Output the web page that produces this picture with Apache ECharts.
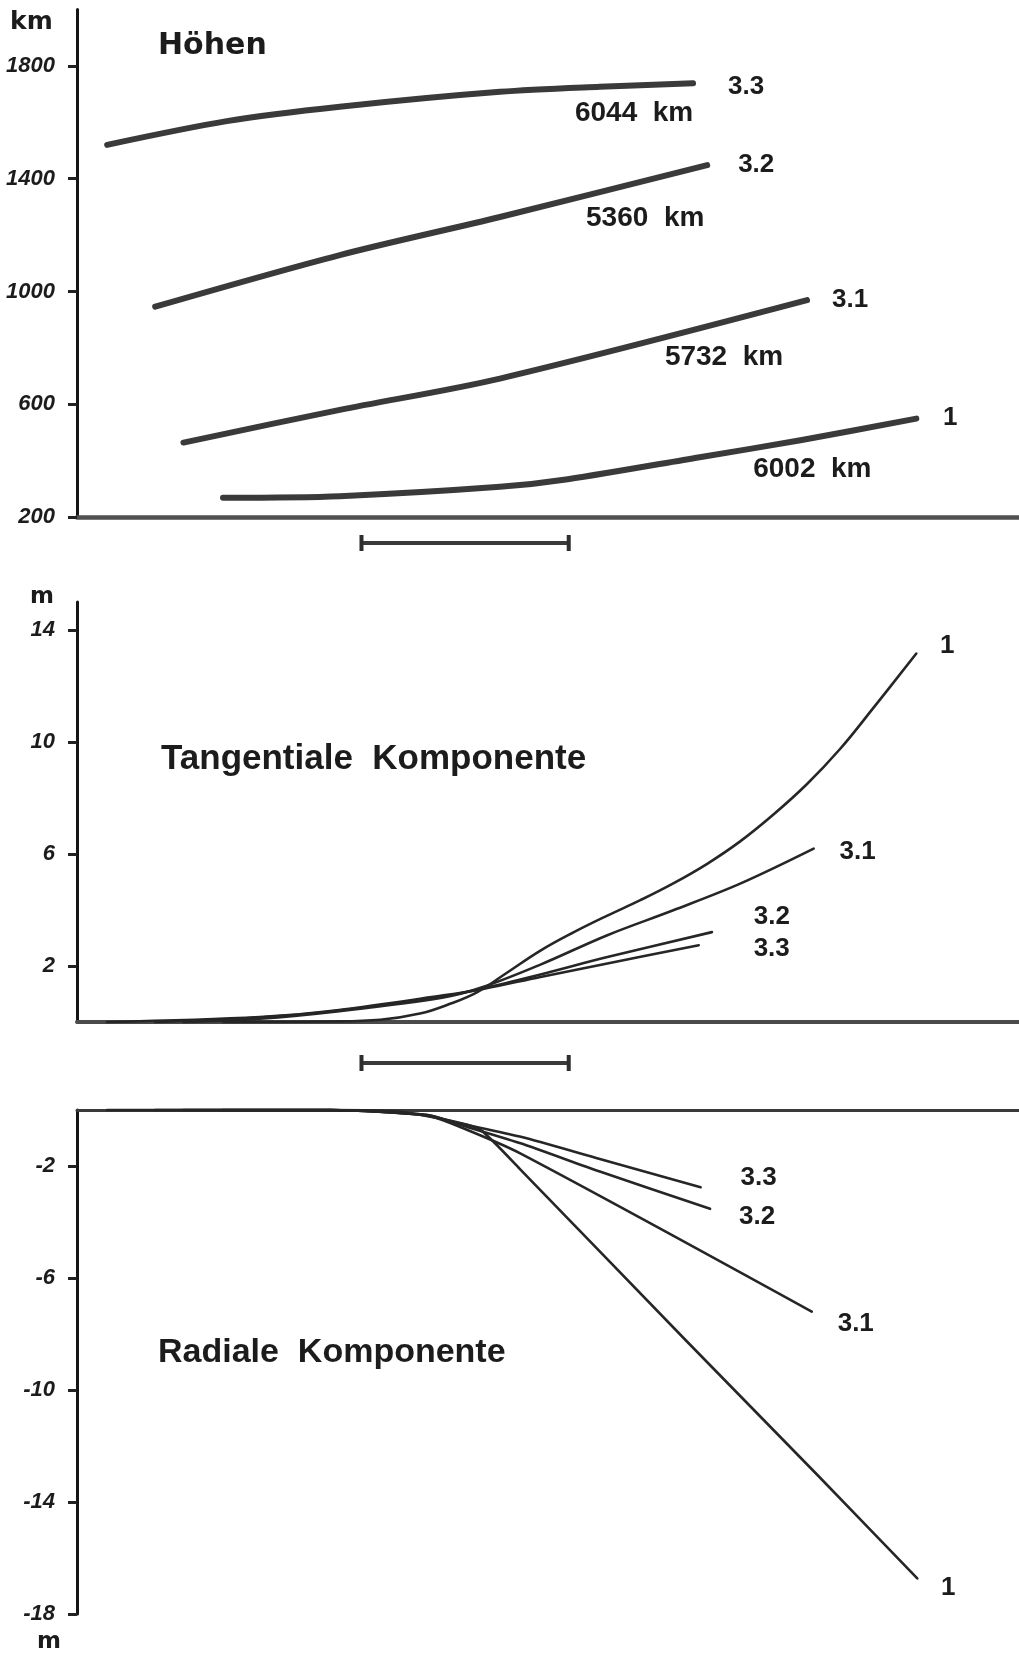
<!DOCTYPE html>
<html>
<head>
<meta charset="utf-8">
<script src="https://cdn.jsdelivr.net/npm/echarts@6/dist/echarts.min.js"></script>
<style>
  html, body { margin: 0; padding: 0; background: #ffffff; }
  #chart { width: 1019px; height: 1655px; }
</style>
</head>
<body>
<div id="chart"></div>
<script>
// Horizontal position along the arc, in frame units (0 … 100 across the plot)

// Höhen (km)
const hoeheX_33 = [3.2, 15.9, 27.9, 44.9, 55.5, 65.4];
const hoeheY_33 = [1520, 1604, 1655, 1708, 1726, 1738];
const hoeheX_32 = [8.3, 27.9, 44.9, 66.9];
const hoeheY_32 = [946, 1129, 1264, 1448];
const hoeheX_31 = [11.3, 27.9, 44.9, 77.5];
const hoeheY_31 = [464, 580, 691, 969];
const hoeheX_1 = [15.5, 27.9, 44.9, 52.1, 66.1, 76.8, 89.1];
const hoeheY_1 = [268, 274, 307, 334, 412, 472, 549];

// Tangentiale Komponente (m)
const tangX_33 = [3.2, 19.4, 27.6, 38.9, 43.1, 49.2, 56.3, 66.0];
const tangY_33 = [0, 0.18, 0.42, 0.95, 1.18, 1.61, 2.09, 2.74];
const tangX_32 = [8.3, 19.4, 27.6, 38.9, 43.1, 49.2, 56.3, 67.4];
const tangY_32 = [0, 0.16, 0.40, 0.92, 1.20, 1.70, 2.32, 3.21];
const tangX_31 = [11.3, 19.4, 27.6, 38.9, 43.1, 49.2, 56.3, 63.3, 70.4, 78.2];
const tangY_31 = [0, 0.12, 0.38, 0.88, 1.25, 2.05, 3.10, 3.99, 4.94, 6.19];
const tangX_1 = [15.5, 26.9, 32.2, 36.4, 39.6, 42.5, 45.6, 49.2, 52.7, 56.3, 59.8, 63.3, 66.9, 70.4, 73.9, 77.5, 81.0, 84.5, 89.1];
const tangY_1 = [0, 0.02, 0.08, 0.30, 0.65, 1.07, 1.75, 2.55, 3.20, 3.80, 4.35, 4.95, 5.65, 6.45, 7.40, 8.50, 9.75, 11.20, 13.16];

// Radiale Komponente (m)
const radX_33 = [3.2, 26.9, 37.2, 39.9, 47.0, 55.5, 66.2];
const radY_33 = [0, 0, -0.18, -0.42, -0.95, -1.75, -2.76];
const radX_32 = [8.3, 26.9, 37.2, 39.9, 47.0, 55.5, 67.2];
const radY_32 = [0, 0, -0.18, -0.45, -1.18, -2.20, -3.53];
const radX_31 = [11.3, 26.9, 37.2, 39.9, 47.0, 78.0];
const radY_31 = [0, 0, -0.20, -0.50, -1.54, -7.20];
const radX_1 = [15.5, 26.9, 34.3, 39.9, 42.8, 47.0, 64.7, 78.5, 89.2];
const radY_1 = [0, 0, -0.06, -0.40, -0.70, -2.10, -8.25, -13.0, -16.73];

// Tick labels of the three vertical axes
const hoeheTicks = [200, 600, 1000, 1400, 1800];
const tangTicks = [2, 6, 10, 14];
const radTicks = [-2, -6, -10, -14, -18];

// Arc names and lengths
const arcNames = ['3.3', '3.2', '3.1', '1'];
const arcLengths = ['6044  km', '5360  km', '5732  km', '6002  km'];

// Scale bar under the first two panels (frame units)
const scaleBar = [30.2, 52.2];

const ink = '#1c1c1c';
const numFont = "'Liberation Sans', Arial, sans-serif";

function pairs(xs, ys) { return xs.map((x, i) => [x, ys[i]]); }

function endMarks(xs, ys, texts) {
  const end = [xs[xs.length - 1], ys[ys.length - 1]];
  return {
    symbol: 'circle',
    symbolSize: 1,
    silent: true,
    itemStyle: { color: 'rgba(0,0,0,0)' },
    data: texts.map(t => ({
      coord: end,
      label: {
        show: true,
        position: 'inside',
        formatter: t.text,
        offset: t.offset,
        color: ink,
        fontFamily: numFont,
        fontWeight: 'bold',
        fontSize: t.size
      }
    }))
  };
}

function arc(gridIdx, xs, ys, width, color, texts, smooth) {
  return {
    type: 'line',
    xAxisIndex: gridIdx,
    yAxisIndex: gridIdx,
    data: pairs(xs, ys),
    showSymbol: false,
    smooth: smooth,
    clip: false,
    lineStyle: { width: width, color: color, cap: 'round', join: 'round' },
    markPoint: endMarks(xs, ys, texts),
    z: 3
  };
}

function bar(gridIdx) {
  return {
    type: 'line',
    xAxisIndex: gridIdx,
    yAxisIndex: gridIdx,
    data: scaleBar.map(x => [x, 0]),
    symbol: 'rect',
    symbolSize: [4, 16],
    showSymbol: true,
    clip: false,
    itemStyle: { color: '#2e2e2e' },
    lineStyle: { width: 4, color: '#3a3a3a' }
  };
}

function valueY(min, max, ticks) {
  return {
    type: 'value',
    min: min,
    max: max,
    axisLine: { show: true, onZero: false, lineStyle: { color: '#151515', width: 3 } },
    axisTick: { show: true, length: 9, customValues: ticks, lineStyle: { color: '#222', width: 3 } },
    axisLabel: {
      show: true,
      customValues: ticks,
      formatter: v => String(v),
      margin: 22,
      color: ink,
      fontFamily: numFont,
      fontStyle: 'italic',
      fontWeight: 'bold',
      fontSize: 22
    },
    splitLine: { show: false }
  };
}

function frameX(width, color, onZero) {
  return {
    type: 'value',
    min: 0,
    max: 100,
    axisLine: { show: width > 0, onZero: onZero, lineStyle: { color: color, width: width } },
    axisTick: { show: false },
    axisLabel: { show: false },
    splitLine: { show: false }
  };
}

const hidden = (min, max) => ({ type: 'value', min: min, max: max, show: false });

const chart = echarts.init(document.getElementById('chart'), null, { renderer: 'canvas' });

chart.setOption({
  animation: false,
  backgroundColor: '#ffffff',
  grid: [
    { left: 77, right: 0, top: 9.5, bottom: 1138, outerBoundsMode: 'none' },
    { left: 77, right: 0, top: 602, bottom: 633, outerBoundsMode: 'none' },
    { left: 77, right: 0, top: 1110, bottom: 41, outerBoundsMode: 'none' },
    { left: 77, right: 0, top: 536, height: 14, outerBoundsMode: 'none' },
    { left: 77, right: 0, top: 1056, height: 14, outerBoundsMode: 'none' }
  ],
  xAxis: [
    Object.assign(frameX(4.5, '#505050', false), { gridIndex: 0 }),
    Object.assign(frameX(4, '#4a4a4a', true), { gridIndex: 1 }),
    Object.assign(frameX(3, '#3a3a3a', true), { gridIndex: 2, position: 'top' }),
    Object.assign(frameX(0, '#000', false), { gridIndex: 3, show: false }),
    Object.assign(frameX(0, '#000', false), { gridIndex: 4, show: false })
  ],
  yAxis: [
    Object.assign(valueY(200, 2000, hoeheTicks), { gridIndex: 0 }),
    Object.assign(valueY(0, 15, tangTicks), { gridIndex: 1 }),
    Object.assign(valueY(-18, 0, radTicks), { gridIndex: 2 }),
    Object.assign(hidden(-1, 1), { gridIndex: 3 }),
    Object.assign(hidden(-1, 1), { gridIndex: 4 })
  ],
  series: [
    // Höhen
    arc(0, hoeheX_33, hoeheY_33, 6, '#3a3a3a', [
      { text: arcNames[0], offset: [53, 3], size: 26 },
      { text: arcLengths[0], offset: [-59, 30], size: 28 }
    ], 0.3),
    arc(0, hoeheX_32, hoeheY_32, 6, '#3a3a3a', [
      { text: arcNames[1], offset: [49, 0], size: 26 },
      { text: arcLengths[1], offset: [-62, 53], size: 28 }
    ], 0.3),
    arc(0, hoeheX_31, hoeheY_31, 6, '#3a3a3a', [
      { text: arcNames[2], offset: [43, 0], size: 26 },
      { text: arcLengths[2], offset: [-83, 57], size: 28 }
    ], 0.3),
    arc(0, hoeheX_1, hoeheY_1, 6, '#3a3a3a', [
      { text: arcNames[3], offset: [34, -1], size: 26 },
      { text: arcLengths[3], offset: [-104, 51], size: 28 }
    ], 0.3),
    // Tangentiale Komponente
    arc(1, tangX_33, tangY_33, 2.6, '#262626', [{ text: arcNames[0], offset: [73, 4], size: 26 }], 0.35),
    arc(1, tangX_32, tangY_32, 2.6, '#262626', [{ text: arcNames[1], offset: [60, -15], size: 26 }], 0.35),
    arc(1, tangX_31, tangY_31, 2.6, '#262626', [{ text: arcNames[2], offset: [44, 3], size: 26 }], 0.35),
    arc(1, tangX_1, tangY_1, 2.6, '#262626', [{ text: arcNames[3], offset: [31, -8], size: 26 }], 0.4),
    // Radiale Komponente
    arc(2, radX_33, radY_33, 2.6, '#262626', [{ text: arcNames[0], offset: [58, -9], size: 26 }], 0.25),
    arc(2, radX_32, radY_32, 2.6, '#262626', [{ text: arcNames[1], offset: [47, 8], size: 26 }], 0.25),
    arc(2, radX_31, radY_31, 2.6, '#262626', [{ text: arcNames[2], offset: [44, 12], size: 26 }], 0.25),
    arc(2, radX_1, radY_1, 2.6, '#262626', [{ text: arcNames[3], offset: [31, 9], size: 26 }], 0.2),
    // scale bars
    bar(3),
    bar(4)
  ],
  graphic: [
    { type: 'text', x: 10, y: 22, style: { text: 'km', fill: ink, font: "bold 25px 'DejaVu Sans'", textVerticalAlign: 'middle' } },
    { type: 'text', x: 158, y: 46, style: { text: 'Höhen', fill: ink, font: "bold 30px 'DejaVu Sans'", textVerticalAlign: 'middle' } },
    { type: 'text', x: 30, y: 597, style: { text: 'm', fill: ink, font: "bold 23px 'DejaVu Sans'", textVerticalAlign: 'middle' } },
    { type: 'text', x: 161, y: 759, style: { text: 'Tangentiale  Komponente', fill: ink, font: "bold 35px 'Liberation Sans'", textVerticalAlign: 'middle' } },
    { type: 'text', x: 158, y: 1353, style: { text: 'Radiale  Komponente', fill: ink, font: "bold 34px 'Liberation Sans'", textVerticalAlign: 'middle' } },
    { type: 'text', x: 37, y: 1642, style: { text: 'm', fill: ink, font: "bold 23px 'DejaVu Sans'", textVerticalAlign: 'middle' } }
  ]
});
</script>
</body>
</html>
